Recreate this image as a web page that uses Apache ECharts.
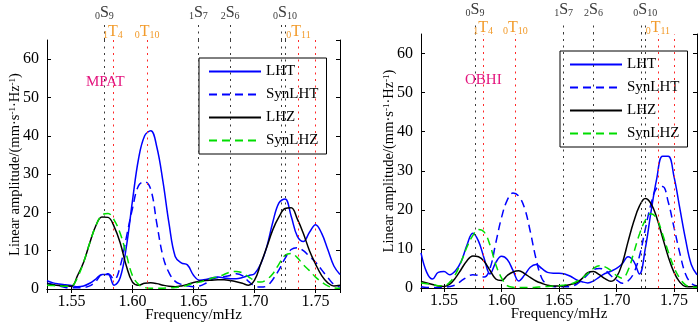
<!DOCTYPE html>
<html>
<head>
<meta charset="utf-8">
<script src="https://cdn.jsdelivr.net/npm/echarts@6/dist/echarts.min.js"></script>
<style>
  html, body { margin: 0; padding: 0; background: #fff; }
  #chart { width: 700px; height: 324px; }
</style>
</head>
<body>
<div id="chart"></div>
<script>
// ---- data: frequency grid (mHz) ----
var FREQ = [1.530, 1.535, 1.540, 1.545, 1.550, 1.555, 1.560, 1.565, 1.570, 1.575,
            1.580, 1.585, 1.590, 1.595, 1.600, 1.605, 1.610, 1.615, 1.620, 1.625,
            1.630, 1.635, 1.640, 1.645, 1.650, 1.655, 1.660, 1.665, 1.670, 1.675,
            1.680, 1.685, 1.690, 1.695, 1.700, 1.705, 1.710, 1.715, 1.720, 1.725,
            1.730, 1.735, 1.740, 1.745, 1.750, 1.755, 1.760, 1.765, 1.770];

// MPAT station
var MPAT_LHT = [2.2, 1.6, 1.3, 1.1, 0.9, 0.6, 0.8, 1.5, 2.6, 3.8,
                3.8, 1.0, 3.0, 11, 23, 34, 40, 41.3, 37, 28,
                17, 8.5, 6.8, 6.3, 3.6, 2.3, 2.5, 2.9, 3.1, 2.9,
                2.7, 2.7, 3.0, 3.5, 4, 6.5, 11, 17.5, 22.5, 23.5,
                19, 13.8, 12.4, 14.8, 16.8, 14.5, 10.3, 6, 3.8];
var MPAT_SYNLHT = [1.5, 1.2, 0.8, 0.4, 0.3, 0.3, 0.4, 0.8, 2.0, 3.8,
                   4.0, 2.5, 6, 13.5, 21, 27, 28, 26, 17, 8.5,
                   4.2, 2, 1.2, 0.8, 0.6, 0.8, 1.5, 2.5, 3.0, 3.2,
                   3.5, 4.0, 3.5, 2, 0.8, 0.5, 0.8, 2.5, 5, 8,
                   10.3, 10.8, 10, 8.5, 7, 5, 3, 1.2, 0.5];
var MPAT_LHZ = [1.4, 1.1, 0.9, 0.8, 0.7, 3.5, 7, 12, 16.5, 18.8,
                18.7, 16.3, 12, 6, 1.8, 1.0, 1.5, 1.6, 1.4, 1,
                0.7, 0.6, 0.8, 1.2, 1.7, 2, 2.2, 2.3, 2.4, 2.4,
                2.2, 1.9, 1.5, 1.0, 2.3, 6.5, 10.9, 15.5, 18.8, 21,
                21.2, 18.3, 14.5, 10, 6.5, 3.5, 1.6, 0.8, 1];
var MPAT_SYNLHZ = [1.0, 0.9, 0.8, 0.7, 0.8, 3, 7, 12, 16.5, 19.3,
                   19.7, 18, 14.5, 9, 3.5, 1.2, 0.4, 0.2, 0.2, 0.2,
                   0.3, 0.4, 0.6, 1, 1.5, 1.8, 2.3, 2.8, 3.2, 3.8,
                   4.4, 4.6, 4.2, 3.2, 2.2, 1.8, 2.5, 4, 6.5, 8.8,
                   9.3, 8.2, 6.3, 4.8, 3.1, 1.8, 0.8, 0.3, 0.2];

// OBHI station
var OBHI_LHT = [9, 4, 2.3, 4, 4.2, 3.4, 4.4, 6.8, 11, 14,
                12, 7.5, 3.6, 6.5, 8.1, 7.3, 4.5, 1.8, 3.3, 5.3,
                6, 5, 4, 3.8, 3.8, 3.6, 3, 2.1, 1.6, 1.3,
                1.8, 2.8, 3.7, 4.3, 5, 6.2, 8, 6.8, 3.6, 10,
                19.5, 28, 33.7, 33.7, 28.5, 20.5, 12.5, 6, 3.4];
var OBHI_SYNLHT = [0.3, 0.1, 0.1, 0.1, 0.2, 0.4, 0.8, 1.8, 2.8, 3.4,
                   3.2, 2.8, 5, 11.5, 18, 22.5, 24.3, 23.5, 20.5, 14.5,
                   7.5, 2.5, 0.8, 0.4, 0.3, 0.3, 0.4, 0.9, 2, 3.5,
                   4.7, 5, 4.6, 3.2, 2.1, 1.2, 1.8, 3.8, 8.2, 15,
                   21.5, 25.6, 26, 22, 15.5, 9, 3.6, 1.2, 0.5];
var OBHI_LHZ = [1.7, 1.3, 0.9, 0.5, 0.4, 1.0, 2.6, 4.8, 7, 8.2,
                8, 6.8, 4.5, 2.3, 1.9, 3.2, 4.1, 4.4, 3.7, 2.7,
                1.8, 1.2, 0.7, 0.5, 0.5, 0.6, 0.9, 1.3, 2.4, 3.9,
                4.2, 3.4, 2.4, 1.7, 2.8, 6.3, 11.8, 17, 21, 22.9,
                21.6, 18, 13, 8, 4, 1.5, 0.4, 0.3, 0.5];
var OBHI_SYNLHZ = [1.3, 1.1, 0.9, 0.6, 0.6, 1.5, 3.5, 6.8, 10.5, 13.4,
                   15, 14.3, 11, 6, 2.6, 0.6, 0.2, 0.1, 0.1, 0.1,
                   0.2, 0.3, 0.4, 0.5, 0.6, 0.8, 1.0, 1.6, 2.5, 3.7,
                   5, 5.7, 5.4, 4.5, 3.2, 2.5, 4.5, 9, 13.8, 17.3,
                   19, 17.8, 13.8, 9.3, 5.3, 2.5, 0.8, 0.3, 0.2];

// normal modes (mHz) and their n / l tags
var S_FREQ = [1.577, 1.654, 1.680, 1.7215, 1.725];
var S_TAGS = [['0', '9'], ['1', '7'], ['2', '6'], null, ['0', '10']];
var T_FREQ = [1.584, 1.612, 1.736, 1.750];
var T_TAGS = [['1', '4'], ['0', '10'], ['0', '11'], null];

var NAMES = ['LHT', 'SynLHT', 'LHZ', 'SynLHZ'];

// ---- styles ----
var SERIF = '"Liberation Serif", "DejaVu Serif", serif';
var LINE_STYLE = {
  LHT:    { color: '#0000ff', type: 'solid' },
  SynLHT: { color: '#0000ff', type: [8, 5] },
  LHZ:    { color: '#000000', type: 'solid' },
  SynLHZ: { color: '#00dd00', type: [8, 5] }
};
var S_COLOR = '#3a3a3a';
var T_COLOR = '#f29b2b';
var DOT = [2, 4.5];

var PANELS = [
  {
    station: 'MPAT',
    values: [MPAT_LHT, MPAT_SYNLHT, MPAT_LHZ, MPAT_SYNLHZ],
    grid:  { left: 47, top: 40, width: 293, height: 249 },
    strip: { left: 47, top: 23, width: 293, height: 17 },
    legend: { left: 199, top: 58 },
    tag: { left: 86, top: 75 },
    sDist: 2, tDist: 0
  },
  {
    station: 'OBHI',
    values: [OBHI_LHT, OBHI_SYNLHT, OBHI_LHZ, OBHI_SYNLHZ],
    grid:  { left: 421, top: 34, width: 276, height: 254 },
    strip: { left: 421, top: 22, width: 276, height: 12 },
    legend: { left: 560, top: 51 },
    tag: { left: 465, top: 73 },
    sDist: 4, tDist: -2
  }
];

function modeLabel(letter, tag, color, dist) {
  return {
    show: true, position: 'end', distance: dist,
    formatter: '{p|' + tag[0] + '}{m|' + letter + '}{p|' + tag[1] + '}',
    rich: {
      m: { fontFamily: SERIF, fontSize: 16, lineHeight: 16, color: color, verticalAlign: 'bottom' },
      p: { fontFamily: SERIF, fontSize: 10, lineHeight: 9, color: color, verticalAlign: 'bottom' }
    }
  };
}

function vline(f, top, color, label) {
  return [
    { coord: [f, 0], lineStyle: { color: color, type: DOT, width: 1 }, label: label || { show: false } },
    { coord: [f, top] }
  ];
}

var axisLine = { lineStyle: { color: '#000', width: 1 } };
var tick = { inside: true, length: 4, lineStyle: { color: '#000' } };
function nameText(size) {
  return {
    color: '#000', fontFamily: SERIF, fontSize: size,
    rich: { sup: { color: '#000', fontFamily: SERIF, fontSize: 9, verticalAlign: 'top', lineHeight: 9 } }
  };
}

var option = {
  animation: false,
  backgroundColor: '#fff',
  grid: [], xAxis: [], yAxis: [], legend: [], title: [], series: []
};

PANELS.forEach(function(p) {
  var g = option.grid.length;
  var xi = option.xAxis.length;
  var yi = option.yAxis.length;
  p.grid.outerBoundsMode = 'none';
  p.strip.outerBoundsMode = 'none';
  option.grid.push(p.grid, p.strip);

  // main box: bottom/left with labels, top/right with inner ticks only
  option.xAxis.push(
    { type: 'value', gridIndex: g, position: 'bottom', min: 1.53, max: 1.77, splitNumber: 5,
      axisLine: axisLine, axisTick: tick, splitLine: { show: false },
      axisLabel: { color: '#000', fontFamily: SERIF, fontSize: 16, margin: 5,
                   showMinLabel: false, showMaxLabel: false,
                   formatter: function(v) { return v.toFixed(2); } },
      name: 'Frequency/mHz', nameLocation: 'middle', nameGap: 19, nameMoveOverlap: false,
      nameTextStyle: nameText(15) },
    { type: 'value', gridIndex: g, position: 'top', min: 1.53, max: 1.77, splitNumber: 5,
      axisLine: axisLine, axisTick: tick, axisLabel: { show: false }, splitLine: { show: false } },
    { type: 'value', gridIndex: g + 1, min: 1.53, max: 1.77, show: false }
  );
  option.yAxis.push(
    { type: 'value', gridIndex: g, position: 'left', min: 0, max: 65, interval: 10,
      axisLine: axisLine, axisTick: tick, splitLine: { show: false },
      axisLabel: { color: '#000', fontFamily: SERIF, fontSize: 16, margin: 8, showMaxLabel: false },
      name: 'Linear amplitude/(mm·s{sup|-1}·Hz{sup|-1})', nameLocation: 'middle', nameGap: 24,
      nameMoveOverlap: false, nameTextStyle: nameText(14.5) },
    { type: 'value', gridIndex: g, position: 'right', min: 0, max: 65, interval: 10,
      axisLine: axisLine, axisTick: tick, axisLabel: { show: false }, splitLine: { show: false } },
    { type: 'value', gridIndex: g + 1, min: 0, max: 1, show: false }
  );

  // dotted mode lines inside the box
  var boxLines = [];
  S_FREQ.forEach(function(f) { boxLines.push(vline(f, 65, S_COLOR)); });
  T_FREQ.forEach(function(f, k) {
    boxLines.push(vline(f, 65, '#ff2a2a', T_TAGS[k] ? modeLabel('T', T_TAGS[k], T_COLOR, p.tDist) : null));
  });
  option.series.push({
    type: 'line', xAxisIndex: xi, yAxisIndex: yi, data: [], silent: true, clip: false,
    markLine: { symbol: 'none', silent: true, animation: false, data: boxLines }
  });

  // spheroidal lines poke above the box, labelled on top
  var stripLines = S_FREQ.map(function(f, k) {
    return vline(f, 1, S_COLOR, S_TAGS[k] ? modeLabel('S', S_TAGS[k], S_COLOR, p.sDist) : null);
  });
  option.series.push({
    type: 'line', xAxisIndex: xi + 2, yAxisIndex: yi + 2, data: [], silent: true, clip: false,
    markLine: { symbol: 'none', silent: true, animation: false, data: stripLines }
  });

  NAMES.forEach(function(name, k) {
    var vals = p.values[k];
    option.series.push({
      name: name, type: 'line', xAxisIndex: xi, yAxisIndex: yi,
      data: FREQ.map(function(f, j) { return [f, vals[j]]; }),
      smooth: 0.4, symbol: 'none', showSymbol: false,
      lineStyle: { color: LINE_STYLE[name].color, type: LINE_STYLE[name].type, width: 1.5 },
      itemStyle: { color: LINE_STYLE[name].color },
      z: 3
    });
  });

  option.legend.push({
    orient: 'vertical', left: p.legend.left, top: p.legend.top, data: NAMES,
    itemWidth: 52, itemHeight: 14, itemGap: 8, padding: [6, 8, 6, 9],
    borderColor: '#000', borderWidth: 1, backgroundColor: '#fff',
    itemStyle: { opacity: 0 },
    selectedMode: false, textStyle: { color: '#000', fontFamily: SERIF, fontSize: 15 }
  });

  option.title.push({
    text: p.station, left: p.tag.left, top: p.tag.top, padding: 0,
    textStyle: { color: '#e4147d', fontFamily: SERIF, fontSize: 15, fontWeight: 'normal' }
  });
});

var chart = echarts.init(document.getElementById('chart'), null, { renderer: 'canvas' });
chart.setOption(option);
</script>
</body>
</html>
